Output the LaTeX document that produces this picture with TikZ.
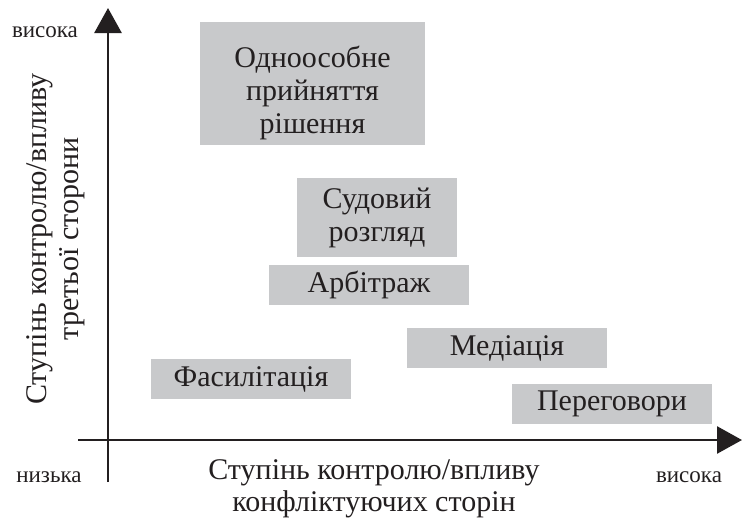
\documentclass[tikz,border=0pt]{standalone}
\usepackage{fontspec}
\setmainfont{Liberation Serif}
\usepackage{xcolor}
\usetikzlibrary{arrows.meta}
\definecolor{boxgray}{RGB}{200,201,203}
\definecolor{ink}{RGB}{35,31,32}

\begin{document}
\begin{tikzpicture}[x=1pt,y=-1pt,
	stage/.style={fill=boxgray,text=ink,inner sep=0pt,align=center,
		font=\fontsize{30}{33}\selectfont},
	level/.style={text=ink,inner sep=0pt,font=\fontsize{23}{26}\selectfont},
	axistitle/.style={text=ink,inner sep=0pt,align=center,
		font=\fontsize{30}{32}\selectfont},
	axis/.style={ink,line width=2.6pt,-{Triangle[width=27pt,length=25pt]}}]

	\useasboundingbox (0,0) rectangle (742,520);

	% axes
	\coordinate (ybottom) at (108,482);
	\coordinate (ytop)    at (108,8);
	\coordinate (xleft)   at (78,440);
	\coordinate (xright)  at (742,440);
	\draw[axis] (ybottom) -- (ytop);
	\draw[axis] (xleft) -- (xright);

	% boxes
	\node[stage,minimum width=225pt,minimum height=123pt] (sole)   at (312.5,83.5) {\rule{0pt}{40pt}Одноособне\\прийняття\\рішення};
	\node[stage,minimum width=160pt,minimum height=79pt]  (court)  at (377,217.5) {Судовий\\розгляд};
	\node[stage,minimum width=200pt,minimum height=40pt]  (arbit)  at (369,285) {Арбітраж};
	\node[stage,minimum width=200pt,minimum height=40pt]  (medi)   at (507,348) {Медіація};
	\node[stage,minimum width=200pt,minimum height=40pt]  (facil)  at (251,379) {Фасилітація};
	\node[stage,minimum width=200pt,minimum height=40pt]  (negot)  at (612,404) {Переговори};

	% levels
	\node[level,anchor=base] (yhigh) at (45,37)  {висока};
	\node[level,anchor=base] (low)   at (49,482) {низька};
	\node[level,anchor=base] (xhigh) at (689,482) {висока};

	% axis titles
	\node[axistitle] (xtitle) at (374,489) {Ступінь контролю/впливу\\конфліктуючих сторін};
	\node[axistitle,rotate=90] (ytitle) at (56,239) {Ступінь контролю/впливу\\третьої сторони};

\end{tikzpicture}
\end{document}
